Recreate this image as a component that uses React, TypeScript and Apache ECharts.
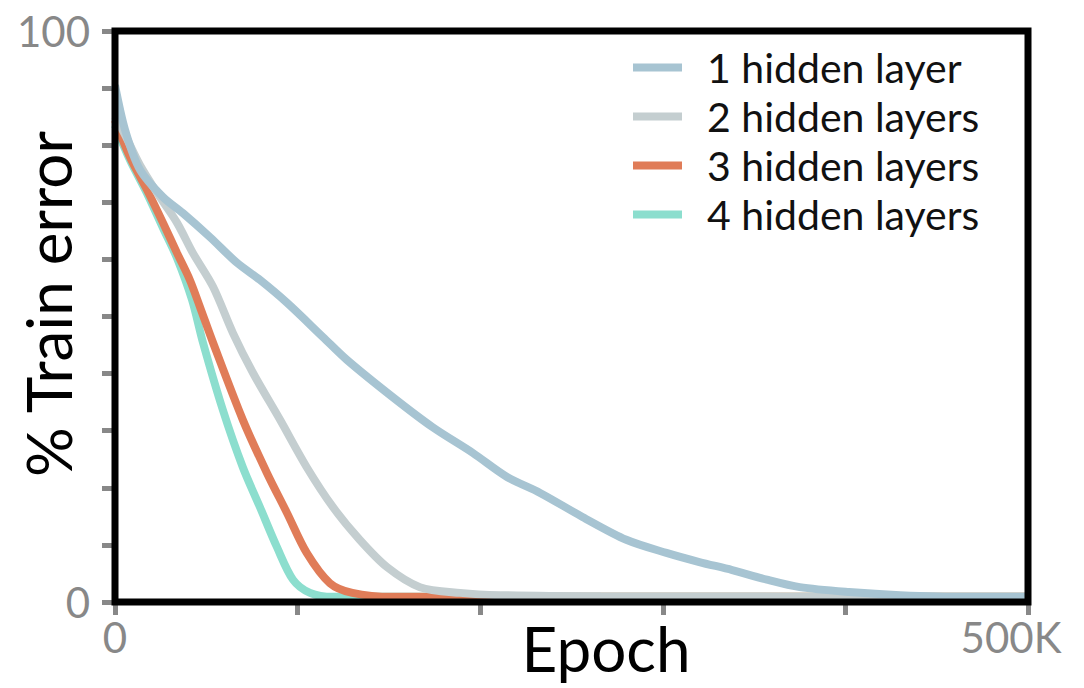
import React, { useEffect, useRef } from "react";
import * as echarts from "echarts";

const seriesNames = ["1 hidden layer", "2 hidden layers", "3 hidden layers", "4 hidden layers"];
const seriesColors = ["#a7c4d2", "#c4ced0", "#e07c58", "#8cdece"];

const epochs1 = [0, 5.5, 13.7, 26.3, 37.2, 52, 66.8, 79.4, 94.2, 113.9, 127, 152, 174, 196, 214.7, 232.8, 256, 280, 302, 320, 338, 357, 375, 402, 430, 466, 500];
const error1 = [90.5, 82.7, 75.7, 70.9, 68.1, 63.9, 59.4, 56.4, 52.4, 46.4, 42.4, 35.9, 30.6, 26.1, 21.9, 19.1, 14.9, 10.9, 8.6, 7.0, 5.6, 3.9, 2.6, 1.75, 1.2, 0.9, 0.9];

const epochs2 = [0, 5.5, 13.7, 24.6, 34, 42.7, 53.7, 64.6, 75.6, 90.4, 105, 119.4, 134, 149, 167, 189, 211, 266, 500];
const error2 = [85, 81.8, 76.5, 70.9, 66.4, 61.1, 55.2, 47.1, 40.1, 31.9, 23.6, 16.6, 10.9, 6.1, 2.6, 1.6, 1.2, 1.0, 0.9];

const epochs3 = [0, 8.2, 17.5, 26.3, 34, 41, 46.5, 53.7, 70, 83.2, 94.2, 105, 117.7, 130, 152, 500];
const error3 = [84.4, 77.9, 72.2, 66.4, 61.1, 56.4, 51.7, 45.4, 31.9, 22.6, 15.6, 8.6, 3.3, 1.6, 0.9, 0.9];

const epochs4 = [0, 8.2, 17.5, 26.3, 34, 42.2, 48.2, 59.1, 70, 79.4, 88.7, 97.5, 106.8, 119.4, 500];
const error4 = [83.5, 77.4, 71.6, 65.5, 60.2, 52.9, 45.4, 33.6, 23.6, 16.6, 9.6, 3.9, 1.6, 0.9, 0.9];

const xTickLabels: Record<number, string> = { 0: "0", 500: "500K" };
const yTickLabels: Record<number, string> = { 0: "0", 100: "100" };
const xAxisTitle = "Epoch";
const yAxisTitle = "% Train error";

const FONT = "Lato";

export default function App() {
  const ref = useRef<HTMLDivElement>(null);
  useEffect(() => {
    if (!ref.current) return;
    const chart = echarts.init(ref.current, undefined, { renderer: "svg" });
    const xs = [epochs1, epochs2, epochs3, epochs4];
    const ys = [error1, error2, error3, error4];
    const zs = [6, 5, 4, 3];
    chart.setOption({
      animation: false,
      backgroundColor: "#fff",
      grid: {
        left: 115,
        right: 56,
        top: 31,
        bottom: 86,
        show: true,
        z: 10,
        borderColor: "#000",
        borderWidth: 7,
        backgroundColor: "transparent",
      },
      legend: {
        orient: "vertical",
        left: 628,
        top: 42,
        align: "left",
        icon: "rect",
        itemWidth: 49,
        itemHeight: 8,
        itemGap: 8,
        data: seriesNames,
        textStyle: {
          fontFamily: FONT,
          fontSize: 41,
          lineHeight: 41,
          color: "#111",
          padding: [0, 0, 0, 20],
        },
      },
      xAxis: {
        type: "value",
        min: 0,
        max: 500,
        interval: 100,
        axisLine: { show: false },
        splitLine: { show: false },
        axisTick: { show: true, length: 13, lineStyle: { color: "#888", width: 5 } },
        axisLabel: {
          margin: 14,
          fontFamily: FONT,
          fontSize: 42,
          color: "#888",
          formatter: (v: number) => {
            const s = xTickLabels[v] ?? "";
            if (v === 500) return "{r|" + s + "}";
            return s;
          },
          rich: {
            r: { fontFamily: FONT, fontSize: 42, color: "#888", padding: [0, 34, 0, 0] },
          },
        },
      },
      yAxis: {
        type: "value",
        min: 0,
        max: 100,
        interval: 10,
        axisLine: { show: false },
        splitLine: { show: false },
        axisTick: { show: true, length: 13, lineStyle: { color: "#888", width: 5 } },
        axisLabel: {
          margin: 25,
          fontFamily: FONT,
          fontSize: 42,
          color: "#888",
          formatter: (v: number) => yTickLabels[v] ?? "",
        },
      },
      graphic: [
        {
          type: "text",
          x: 606,
          y: 648,
          style: {
            text: xAxisTitle,
            fontFamily: FONT,
            fontSize: 62,
            lineHeight: 62,
            fill: "#000",
            align: "center",
            verticalAlign: "middle",
          },
        },
        {
          type: "text",
          x: 48,
          y: 304,
          rotation: Math.PI / 2,
          style: {
            text: yAxisTitle,
            fontFamily: FONT,
            fontSize: 62,
            lineHeight: 62,
            fill: "#000",
            align: "center",
            verticalAlign: "middle",
          },
        },
      ],
      series: seriesNames.map((name, i) => ({
        name,
        type: "line",
        z: zs[i],
        smooth: 0.3,
        showSymbol: false,
        symbol: "none",
        color: seriesColors[i],
        lineStyle: { color: seriesColors[i], width: 8 },
        data: xs[i].map((x, j) => [x, ys[i][j]]),
      })),
    });
    return () => chart.dispose();
  }, []);
  return (
    <div
      ref={ref}
      style={{ position: "fixed", left: 0, top: 0, width: 1084, height: 688, background: "#fff" }}
    />
  );
}
